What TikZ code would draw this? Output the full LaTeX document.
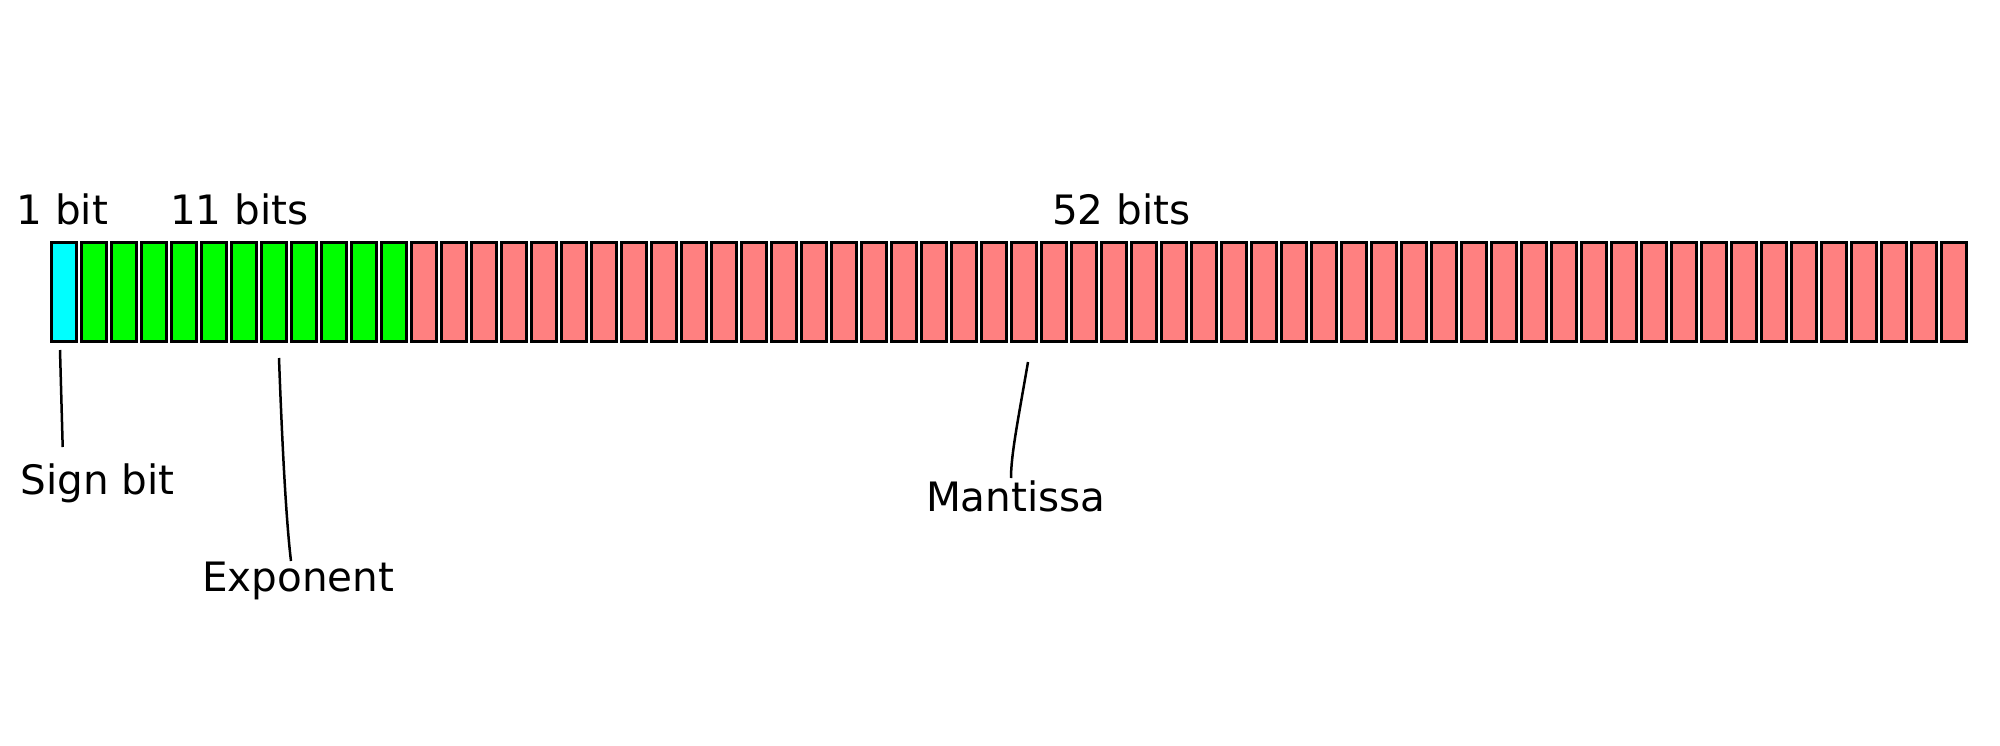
\documentclass[tikz,border=0pt]{standalone}
\usepackage{fontspec}
\setmainfont{DejaVu Sans}
\begin{document}
\begin{tikzpicture}[x=1pt,y=-1pt,
  bitbox/.style={draw=black,line width=2.8pt,minimum width=24.9pt,minimum height=99.2pt,inner sep=0pt,outer sep=0pt},
  lbl/.style={anchor=base west,inner sep=0pt,outer sep=0pt,font=\fontsize{40.5}{48}\selectfont},
  lead/.style={draw=black,line width=2.5pt}]
\useasboundingbox (0,0) rectangle (2000,745);
\definecolor{signc}{HTML}{00FFFF}
\definecolor{expc}{HTML}{00FF00}
\definecolor{manc}{HTML}{FF8080}
\foreach \i in {1,...,64}{
  \ifnum\i=1 \def\col{signc}\else\ifnum\i<13 \def\col{expc}\else\def\col{manc}\fi\fi
  \node[bitbox,fill=\col] (b\i) at ({50+30*(\i-1)+13.85},292) {};
}
\node[lbl] (t1) at (16.5,224) {1 bit};
\node[lbl] (t11) at (170,224) {11 bits};
\node[lbl] (t52) at (1052,224) {52 bits};
\node[lbl] (sign) at (20.5,494) {Sign bit};
\node[lbl] (expo) at (202,591) {Exponent};
\node[lbl] (mant) at (926,511) {Mantissa};
\coordinate (s1) at (60,350);
\coordinate (s2) at (62.7,447);
\coordinate (e1) at (279,358);
\coordinate (e2) at (291,561);
\coordinate (m1) at (1028,362);
\coordinate (m2) at (1011,478);
\draw[lead] (s1) -- (s2);
\draw[lead] (e1) .. controls (282,440) and (286,520) .. (e2);
\draw[lead] (m1) .. controls (1018,420) and (1011,455) .. (m2);
\end{tikzpicture}
\end{document}
